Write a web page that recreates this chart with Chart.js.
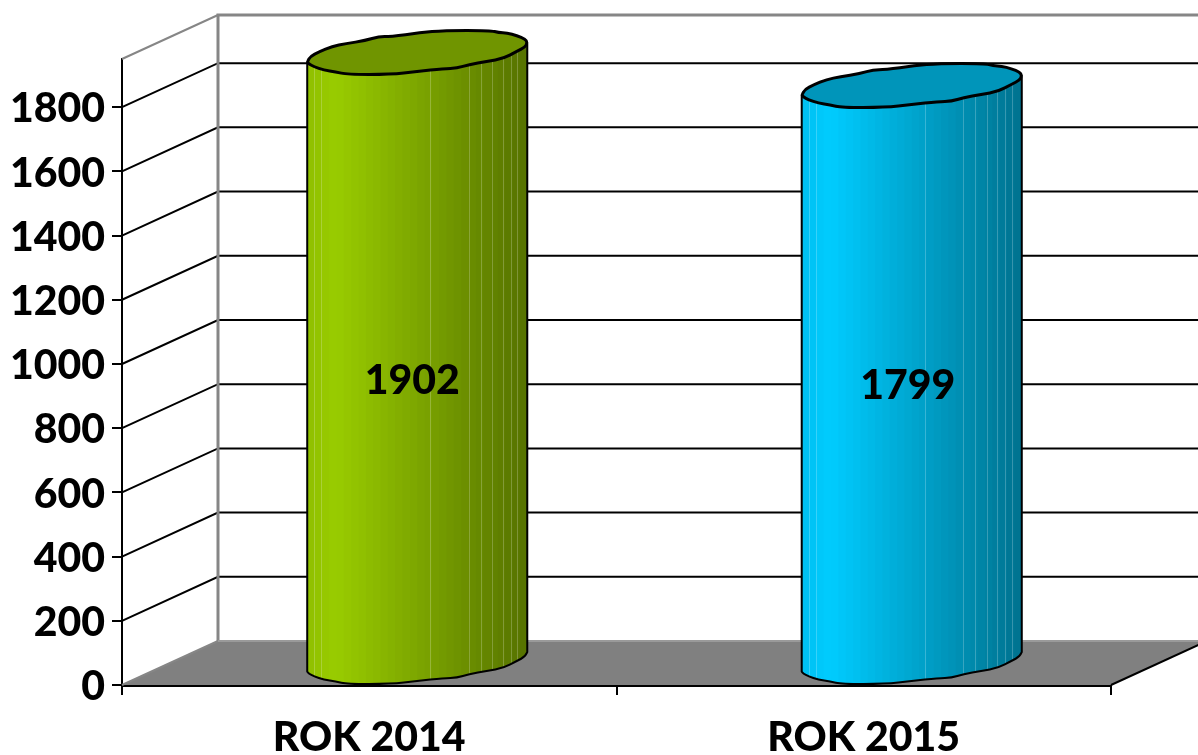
<!DOCTYPE html>
<html><head><meta charset="utf-8">
<style>html,body{margin:0;padding:0;background:#fff}#wrap{width:1198px;height:755px;position:relative}</style>
<script src="https://cdn.jsdelivr.net/npm/chart.js@4/dist/chart.umd.min.js"></script>
</head><body><div id="wrap"><canvas id="c" width="1198" height="755"></canvas></div>
<script>
const categories = ['ROK 2014', 'ROK 2015'];
const values = [1902, 1799];
const barColors = ['rgb(153,204,0)', 'rgb(0,204,255)'];
const yTickStep = 200;
const yMax = 1950;

const DEPTH_X = 96, DEPTH_Y = 44;
const FONT = 'Lato, Carlito, sans-serif';
const capTemplate = [[50,128],[60,110],[85,97],[125,80],[165,72],[225,62],[265,50],[300,50],[390,38],[460,31],[600,31],[625,38],[650,39],[680,47],[705,58],[711,68],[705,82],[680,95],[640,117],[590,126],[535,136],[500,147],[460,148],[380,157],[300,166],[170,166],[135,158],[100,153],[70,142],[55,134]]
  .map(p => [(p[0]-380.5)/330.5, (p[1]-98.5)/67.5]);
const rightIdx = 15;
const stripeFractions = [.033,.064,.56,.735,.788,.841,.889,.924,.955];
const labelShift = [[-5,23],[-4,11]];

const shade = (rgb, f) => { const m = rgb.match(/\d+/g).map(Number); return `rgb(${m.map(v => Math.round(v*f)).join(',')})`; };

function smoothThrough(path, pts) {
  for (let j = 1; j < pts.length - 1; j++) {
    const mx = (pts[j][0] + pts[j+1][0]) / 2, my = (pts[j][1] + pts[j+1][1]) / 2;
    path.quadraticCurveTo(pts[j][0], pts[j][1], mx, my);
  }
  const e = pts[pts.length-1];
  path.lineTo(e[0], e[1]);
}

const scene = {
  id: 'scene',
  beforeDatasetsDraw(chart) {
    const {ctx} = chart, y = chart.scales.y, x = chart.scales.x;
    const L = x.left, R = x.right, B = y.getPixelForValue(0), T = y.getPixelForValue(yMax);
    ctx.save();
    ctx.fillStyle = '#808080';
    ctx.beginPath(); ctx.moveTo(L,B); ctx.lineTo(L+DEPTH_X,B-DEPTH_Y); ctx.lineTo(R+DEPTH_X,B-DEPTH_Y); ctx.lineTo(R,B); ctx.closePath(); ctx.fill();
    ctx.lineWidth = 2; ctx.strokeStyle = '#000';
    y.ticks.forEach(t => {
      if (t.value === 0) return;
      const p = y.getPixelForValue(t.value);
      ctx.beginPath(); ctx.moveTo(L,p); ctx.lineTo(L+DEPTH_X,p-DEPTH_Y); ctx.lineTo(R+DEPTH_X,p-DEPTH_Y); ctx.stroke();
    });
    ctx.strokeStyle = '#868686';
    ctx.lineWidth = 3;
    ctx.beginPath(); ctx.moveTo(L+DEPTH_X,B-DEPTH_Y); ctx.lineTo(L+DEPTH_X,T-DEPTH_Y); ctx.lineTo(R+DEPTH_X,T-DEPTH_Y); ctx.stroke();
    ctx.lineWidth = 2;
    ctx.beginPath(); ctx.moveTo(L,T); ctx.lineTo(L+DEPTH_X,T-DEPTH_Y); ctx.stroke();
    ctx.beginPath(); ctx.moveTo(L,B); ctx.lineTo(L+DEPTH_X,B-DEPTH_Y); ctx.stroke();
    ctx.strokeStyle = '#9a9a9a';
    ctx.beginPath(); ctx.moveTo(L+DEPTH_X,B-DEPTH_Y); ctx.lineTo(R+DEPTH_X,B-DEPTH_Y); ctx.stroke();
    ctx.strokeStyle = '#000';
    ctx.beginPath(); ctx.moveTo(R,B); ctx.lineTo(R+DEPTH_X,B-DEPTH_Y); ctx.stroke();
    ctx.restore();
  },
  beforeDatasetDraw(chart, args) {
    const {ctx} = chart, meta = args.meta;
    meta.data.forEach((el, i) => {
      const col = barColors[i];
      const cx = el.x + DEPTH_X/2, hw = el.width/2, hh = DEPTH_Y/2;
      const topY = el.y - hh, botY = el.base - hh;
      const pt = (p, oy) => [cx + p[0]*hw, oy + p[1]*hh];
      const lower = capTemplate.slice(rightIdx).concat([capTemplate[0]]);
      const l0 = pt(capTemplate[0], topY), r0 = pt(capTemplate[rightIdx], topY);
      const bottomPts = lower.map(p => pt(p, botY));
      const front = new Path2D();
      front.moveTo(r0[0], r0[1]);
      front.lineTo(bottomPts[0][0], bottomPts[0][1]);
      smoothThrough(front, bottomPts);
      front.lineTo(l0[0], l0[1]);
      front.closePath();
      ctx.save();
      ctx.clip(front);
      const bands = 30, left = cx - hw, w = hw*2;
      for (let b = 0; b < bands; b++) {
        const f = (b+.5)/bands;
        const k = f < .13 ? .94 + .06*f/.13 : 1 - .44*(f-.13)/.87;
        ctx.fillStyle = shade(col, k);
        ctx.fillRect(left + w*b/bands, topY-hh*2, w/bands+1, botY-topY+hh*4);
      }
      ctx.fillStyle = 'rgba(255,255,255,.22)';
      stripeFractions.forEach(s => ctx.fillRect(Math.round(left+w*s), topY-hh*2, 1, botY-topY+hh*4));
      ctx.restore();
      ctx.save();
      ctx.lineJoin = 'round'; ctx.lineCap = 'round';
      ctx.strokeStyle = '#000'; ctx.lineWidth = 2;
      ctx.stroke(front);
      const capPts = capTemplate.map(p => pt(p, topY));
      const n = capPts.length;
      const cap = new Path2D();
      cap.moveTo((capPts[n-1][0]+capPts[0][0])/2, (capPts[n-1][1]+capPts[0][1])/2);
      capPts.forEach((q, j) => {
        const nx = capPts[(j+1)%n];
        cap.quadraticCurveTo(q[0], q[1], (q[0]+nx[0])/2, (q[1]+nx[1])/2);
      });
      cap.closePath();
      ctx.fillStyle = shade(col, .73);
      ctx.fill(cap);
      ctx.lineWidth = 3;
      ctx.stroke(cap);
      ctx.fillStyle = '#000';
      ctx.font = '900 41px ' + FONT;
      ctx.textAlign = 'center'; ctx.textBaseline = 'middle';
      ctx.fillText(String(values[i]), cx + labelShift[i][0], (topY+botY)/2 + labelShift[i][1] + 1);
      ctx.restore();
    });
    return false;
  }
};

new Chart(document.getElementById('c').getContext('2d'), {
  type: 'bar',
  data: { labels: categories, datasets: [{ data: values, backgroundColor: barColors, categoryPercentage: 1, barPercentage: .445 }] },
  plugins: [scene],
  options: {
    responsive: false, animation: false,
    layout: { padding: { left: 0, top: 59, right: 87, bottom: 0 } },
    plugins: { legend: { display: false }, title: { display: false }, tooltip: { enabled: false } },
    scales: {
      x: {
        afterFit(s) { s.height = 70; },
        grid: { display: true, drawOnChartArea: false, drawTicks: true, tickLength: 10, color: '#000', lineWidth: 2, offset: true },
        border: { display: true, color: '#000', width: 3 },
        ticks: { color: '#000', font: { family: FONT, size: 41, weight: '900' }, padding: 18, maxRotation: 0 }
      },
      y: {
        min: 0, max: yMax,
        afterFit(s) { s.width = 122; },
        grid: { display: true, drawOnChartArea: false, drawTicks: true, tickLength: 10, color: '#000', lineWidth: 2 },
        border: { display: true, color: '#000', width: 2 },
        ticks: { stepSize: yTickStep, includeBounds: false, color: '#000', font: { family: FONT, size: 41, weight: '900' }, padding: 7, labelOffset: 2, callback: v => String(v) }
      }
    }
  }
});
</script></body></html>
